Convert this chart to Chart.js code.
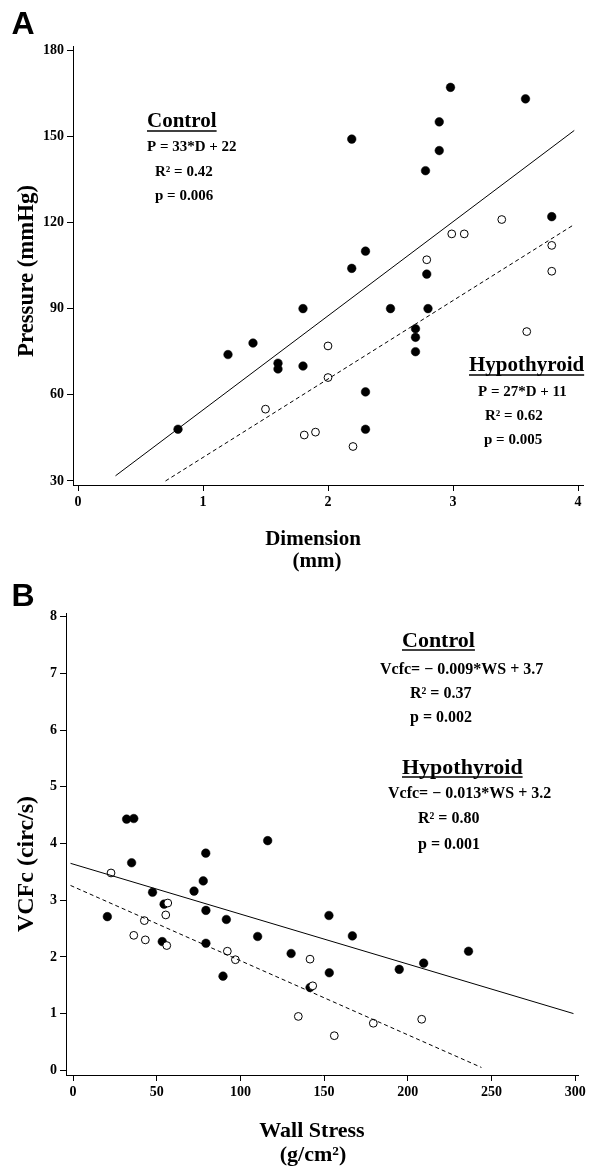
<!DOCTYPE html>
<html>
<head>
<meta charset="utf-8">
<script src="https://cdn.jsdelivr.net/npm/chart.js@4.4.1/dist/chart.umd.min.js"></script>
<style>
  html, body { margin: 0; padding: 0; background: #fff; }
  canvas { position: absolute; left: 0; }
  #chartA { top: 0; }
  #chartB { top: 578px; }
</style>
</head>
<body>
<canvas id="chartA" width="589" height="578"></canvas>
<canvas id="chartB" width="589" height="589"></canvas>
<script>
// Panel A - pressure vs dimension
const dimControl   = [0.8, 1.2, 1.4, 1.6, 1.6, 1.8, 1.8, 2.19, 2.19, 2.3, 2.3, 2.3, 2.5, 2.7, 2.7, 2.7, 2.78, 2.79, 2.8, 2.89, 2.89, 2.98, 3.58, 3.79];
const pressControl = [48, 74, 78, 71, 69, 90, 70, 149, 104, 110, 61, 48, 90, 83, 80, 75, 138, 102, 90, 155, 145, 167, 163, 122];
const dimHypo      = [1.5, 1.81, 1.9, 2.0, 2.0, 2.2, 2.79, 2.99, 3.09, 3.39, 3.59, 3.79, 3.79];
const pressHypo    = [55, 46, 47, 77, 66, 42, 107, 116, 116, 121, 82, 112, 103];
// regression lines, end points
const fitDimControl   = [0.3, 3.97];
const fitPressControl = [31.8, 152];
const fitDimHypo      = [0.7, 3.96];
const fitPressHypo    = [30, 119];
const ticksDim   = [0, 1, 2, 3, 4];
const ticksPress = [30, 60, 90, 120, 150, 180];

// Panel B - VCFc vs wall stress
const wsControl   = [20.5, 32, 36.3, 35, 47.5, 53.3, 54.4, 72.3, 77.8, 79.3, 79.4, 79.4, 89.6, 91.6, 110.3, 116.3, 130.3, 141.6, 152.9, 153.1, 166.9, 194.9, 209.5, 236.3];
const vcfControl  = [2.71, 4.43, 4.44, 3.66, 3.14, 2.27, 2.93, 3.16, 3.34, 3.83, 2.82, 2.24, 1.66, 2.66, 2.36, 4.05, 2.06, 1.46, 2.73, 1.72, 2.37, 1.78, 1.89, 2.10];
const wsHypo      = [22.7, 36.3, 42.6, 43.2, 55.4, 56, 56.6, 92.2, 97, 134.6, 141.6, 143.2, 156.1, 179.4, 208.3];
const vcfHypo     = [3.48, 2.38, 2.64, 2.30, 2.74, 2.20, 2.95, 2.10, 1.95, 0.95, 1.96, 1.49, 0.61, 0.83, 0.90];
const fitWsControl  = [-1.5, 299];
const fitVcfControl = [3.65, 1.0];
const fitWsHypo     = [-1.5, 244];
const fitVcfHypo    = [3.26, 0.05];
const ticksWs  = [0, 50, 100, 150, 200, 250, 300];
const ticksVcf = [0, 1, 2, 3, 4, 5, 6, 7, 8];

const SERIF = 'Liberation Serif';
Chart.defaults.font.family = SERIF;
Chart.defaults.color = '#000';

const pts = (xs, ys) => xs.map((x, i) => ({ x: x, y: ys[i] }));

// draws the free text of the figure (titles, fit equations, panel letter)
const figText = {
  id: 'figText',
  afterDraw(chart, args, opts) {
    const ctx = chart.ctx;
    ctx.save();
    ctx.fillStyle = '#000';
    ctx.strokeStyle = '#000';
    opts.items.forEach(t => {
      ctx.save();
      ctx.font = t.font;
      ctx.textAlign = t.align || 'left';
      ctx.textBaseline = 'middle';
      ctx.translate(t.x, t.y);
      if (t.rotate) ctx.rotate(t.rotate);
      if (t.maxWidth) ctx.fillText(t.text, 0, 0, t.maxWidth);
      else ctx.fillText(t.text, 0, 0);
      if (t.underline) {
        const w = ctx.measureText(t.text).width;
        ctx.lineWidth = 1.5;
        ctx.beginPath();
        ctx.moveTo(0, t.underline);
        ctx.lineTo(w, t.underline);
        ctx.stroke();
      }
      ctx.restore();
    });
    ctx.restore();
  }
};

function axis(ticks, min, max, fit) {
  return {
    type: 'linear',
    min: min,
    max: max,
    afterBuildTicks: s => { s.ticks = ticks.map(v => ({ value: v })); },
    afterFit: fit,
    grid: { display: true, drawOnChartArea: false, drawTicks: true, tickLength: 6, color: '#000', lineWidth: 1 },
    border: { display: true, color: '#000', width: 1 },
    ticks: { color: '#000', font: { family: SERIF, weight: 'bold', size: 14 }, padding: 3, autoSkip: false, maxRotation: 0 }
  };
}

function makeChart(id, cfg) {
  const H = document.getElementById(id).height;
  return new Chart(document.getElementById(id), {
    type: 'scatter',
    data: {
      datasets: [
        { data: cfg.lineControl, showLine: true, borderColor: '#000', borderWidth: 1, pointRadius: 0, fill: false },
        { data: cfg.lineHypo, showLine: true, borderColor: '#000', borderWidth: 1, borderDash: [4, 3], pointRadius: 0, fill: false },
        { data: cfg.hypo, pointRadius: 3.9, pointBackgroundColor: '#fff', pointBorderColor: '#000', pointBorderWidth: 1, clip: 8 },
        { data: cfg.control, pointRadius: 4.3, pointBackgroundColor: '#000', pointBorderColor: '#000', pointBorderWidth: 0.5, clip: 8 }
      ]
    },
    options: {
      responsive: false,
      animation: false,
      layout: { padding: { left: 0, top: cfg.area.top, right: 589 - cfg.area.right, bottom: 0 } },
      plugins: { legend: { display: false }, tooltip: { enabled: false }, figText: { items: cfg.text } },
      scales: {
        x: axis(cfg.xTicks, cfg.xMin, cfg.xMax, s => { s.height = H - cfg.area.bottom; }),
        y: axis(cfg.yTicks, cfg.yMin, cfg.yMax, s => { s.width = cfg.area.left; })
      }
    },
    plugins: [figText]
  });
}

const bold = px => 'bold ' + px + 'px "' + SERIF + '"';
const letterFont = '900 32px "Liberation Sans"';

makeChart('chartA', {
  control: pts(dimControl, pressControl),
  hypo: pts(dimHypo, pressHypo),
  lineControl: pts(fitDimControl, fitPressControl),
  lineHypo: pts(fitDimHypo, fitPressHypo),
  xTicks: ticksDim, yTicks: ticksPress,
  xMin: -0.04, xMax: 4.04, yMin: 28.6, yMax: 181.4,
  area: { left: 73, right: 583, top: 46, bottom: 485 },
  text: [
    { text: 'A', x: 23, y: 25, font: letterFont, align: 'center' },
    { text: 'Pressure (mmHg)', x: 27, y: 271, font: bold(24), align: 'center', rotate: -Math.PI / 2, maxWidth: 172 },
    { text: 'Dimension', x: 313, y: 540, font: bold(21), align: 'center' },
    { text: '(mm)', x: 317, y: 562, font: bold(21), align: 'center' },
    { text: 'Control', x: 147, y: 122, font: bold(21), underline: 9 },
    { text: 'P = 33*D + 22', x: 147, y: 147, font: bold(15) },
    { text: 'R² = 0.42', x: 155, y: 172, font: bold(15) },
    { text: 'p = 0.006', x: 155, y: 196, font: bold(15) },
    { text: 'Hypothyroid', x: 469, y: 366, font: bold(21), underline: 9 },
    { text: 'P = 27*D + 11', x: 478, y: 392, font: bold(15) },
    { text: 'R² = 0.62', x: 485, y: 416, font: bold(15) },
    { text: 'p = 0.005', x: 484, y: 440, font: bold(15) }
  ]
});

makeChart('chartB', {
  control: pts(wsControl, vcfControl),
  hypo: pts(wsHypo, vcfHypo),
  lineControl: pts(fitWsControl, fitVcfControl),
  lineHypo: pts(fitWsHypo, fitVcfHypo),
  xTicks: ticksWs, yTicks: ticksVcf,
  xMin: -4.2, xMax: 301.7, yMin: -0.083, yMax: 8.065,
  area: { left: 66, right: 578, top: 35, bottom: 497 },
  text: [
    { text: 'B', x: 23, y: 19, font: letterFont, align: 'center' },
    { text: 'VCFc (circ/s)', x: 27, y: 286, font: bold(24), align: 'center', rotate: -Math.PI / 2 },
    { text: 'Wall Stress', x: 312, y: 553, font: bold(22), align: 'center' },
    { text: '(g/cm²)', x: 313, y: 577, font: bold(22), align: 'center' },
    { text: 'Control', x: 402, y: 63, font: bold(22), underline: 9 },
    { text: 'Vcfc= − 0.009*WS + 3.7', x: 380, y: 92, font: bold(16) },
    { text: 'R² = 0.37', x: 410, y: 116, font: bold(16) },
    { text: 'p = 0.002', x: 410, y: 140, font: bold(16) },
    { text: 'Hypothyroid', x: 402, y: 190, font: bold(22), underline: 9 },
    { text: 'Vcfc= − 0.013*WS + 3.2', x: 388, y: 216, font: bold(16) },
    { text: 'R² = 0.80', x: 418, y: 241, font: bold(16) },
    { text: 'p = 0.001', x: 418, y: 267, font: bold(16) }
  ]
});
</script>
</body>
</html>
